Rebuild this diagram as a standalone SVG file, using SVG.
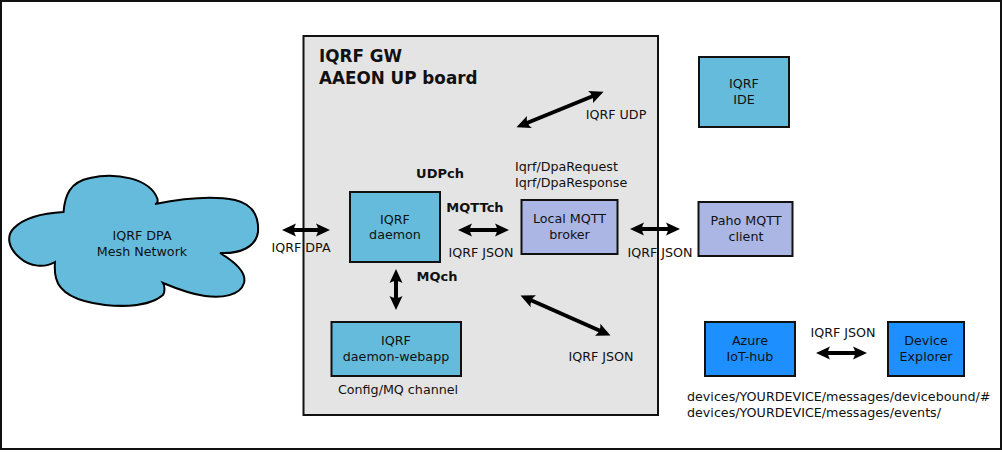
<svg xmlns="http://www.w3.org/2000/svg" width="1002" height="452" viewBox="0 0 1002 452">
<style>
text{font-family:"DejaVu Sans",sans-serif;font-size:12.7px;fill:#111;text-anchor:middle}
.l{text-anchor:start}
.b{font-weight:bold;font-size:13px}
.t{font-weight:bold;font-size:16.800px;text-anchor:start}
.box{stroke:#111;stroke-width:2}
.c{fill:#65bbdb}.p{fill:#abb6e4}.a{fill:#1e8fff}
.ar{fill:none;stroke:#000;stroke-width:4;marker-start:url(#h);marker-end:url(#h)}
</style>
<defs>
<marker id="h" markerUnits="userSpaceOnUse" markerWidth="20" markerHeight="20" refX="8" refY="10" orient="auto-start-reverse" viewBox="0 0 20 20">
<path d="M14 10 L0 3.500 Q4 10 0 16.500 Z" fill="#000"/>
</marker>
</defs>
<rect x="1" y="1" width="1000" height="448" fill="#fff" stroke="#111" stroke-width="2"/>
<g id="gateway">
<rect x="303.500" y="36" width="354.500" height="379" fill="#e4e4e4" stroke="#111" stroke-width="2"/>
<text class="t" x="319" y="62">IQRF GW</text>
<text class="t" x="319" y="84">AAEON UP board</text>
</g>
<g id="cloud">
<path class="c" stroke="#000" stroke-width="2" d="M63.500 212 C65 195 70 182 90 178 C115 172 150 178 157.500 199 C158 202 157 204 155 204 C185 198 215 196 235 200 C252 204 259 216 258 232 C256 247 240 254 220 253 C235 262 247 272 244 283 C240 296 222 298 205 296 C190 294 175 288 163 283 C165 286 165 292 163 295 C150 306 125 307 105 305 C80 302 60 295 56 278 C54 270 55 264 55 262 C45 268 30 267 20 258 C8 248 6 236 14 228 C25 217 45 213 63.500 212 Z"/>
<text x="142" y="240">IQRF DPA</text>
<text x="142" y="256">Mesh Network</text>
</g>
<g id="connectors">
<path class="ar" d="M288 230 H324"/>
<path class="ar" d="M464 230 H503"/>
<path class="ar" d="M636 229 H674"/>
<path class="ar" d="M396 275 V304"/>
<path class="ar" d="M522 125 L598 94"/>
<path class="ar" d="M526 298 L605 333"/>
<path class="ar" d="M822 353 H861"/>
</g>
<g id="daemon">
<rect class="box c" x="350" y="192" width="90" height="70"/>
<text x="395" y="224">IQRF</text>
<text x="395" y="239">daemon</text>
</g>
<g id="webapp">
<rect class="box c" x="331.500" y="322" width="129.500" height="54"/>
<text x="396" y="345">IQRF</text>
<text x="396" y="361">daemon-webapp</text>
</g>
<g id="broker">
<rect class="box p" x="521.500" y="200" width="96" height="54"/>
<text x="569.500" y="223">Local MQTT</text>
<text x="569.500" y="239">broker</text>
</g>
<g id="ide">
<rect class="box c" x="699" y="57" width="90" height="70"/>
<text x="744" y="88">IQRF</text>
<text x="744" y="104">IDE</text>
</g>
<g id="paho">
<rect class="box p" x="698.500" y="202" width="94" height="54"/>
<text x="746" y="225">Paho MQTT</text>
<text x="746" y="241">client</text>
</g>
<g id="azure">
<rect class="box a" x="705" y="322" width="90" height="54"/>
<text x="750" y="345">Azure</text>
<text x="750" y="361">IoT-hub</text>
</g>
<g id="explorer">
<rect class="box a" x="888" y="322" width="76" height="54"/>
<text x="926" y="345">Device</text>
<text x="926" y="361">Explorer</text>
</g>
<g id="labels">
<text x="301" y="252">IQRF DPA</text>
<text class="b" x="440" y="178">UDPch</text>
<text class="b" x="475" y="212">MQTTch</text>
<text class="b" x="437" y="281">MQch</text>
<text x="481" y="257">IQRF JSON</text>
<text x="660" y="257">IQRF JSON</text>
<text x="616" y="119">IQRF UDP</text>
<text class="l" x="515" y="171">Iqrf/DpaRequest</text>
<text class="l" x="515" y="187">Iqrf/DpaResponse</text>
<text x="601" y="361">IQRF JSON</text>
<text x="398" y="394">Config/MQ channel</text>
<text x="843" y="337">IQRF JSON</text>
<text class="l" x="687" y="401">devices/YOURDEVICE/messages/devicebound/#</text>
<text class="l" x="687" y="417">devices/YOURDEVICE/messages/events/</text>
</g>
</svg>
